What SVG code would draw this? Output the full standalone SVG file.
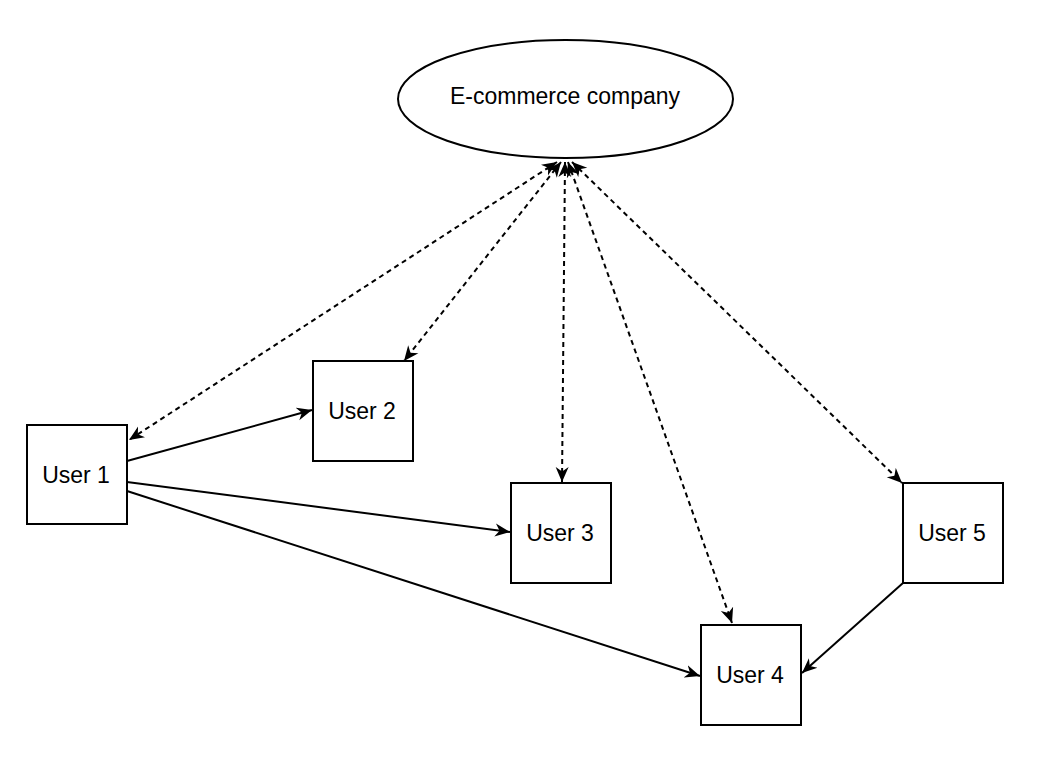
<svg xmlns="http://www.w3.org/2000/svg" width="1060" height="770" viewBox="0 0 1060 770">
<defs>
<marker id="arr" viewBox="-15 -7 16 14" refX="0" refY="0" markerWidth="16" markerHeight="14" markerUnits="userSpaceOnUse" orient="auto-start-reverse">
<path d="M-15,-6.5 L0,0 L-15,6.5 L-10.5,0 Z" fill="#000"/>
</marker>
<style>
.node{fill:#fff;stroke:#000;stroke-width:2}
.lbl{font-family:"Liberation Sans",Arial,sans-serif;font-size:23px;fill:#000;text-anchor:middle}
.e{fill:none;stroke:#000;stroke-width:2;marker-end:url(#arr)}
.d{fill:none;stroke:#000;stroke-width:2;stroke-dasharray:5 4;marker-start:url(#arr);marker-end:url(#arr)}
</style>
</defs>
<rect width="1060" height="770" fill="#fff"/>
<g id="connectors">
<path class="d" d="M557,162 L129,440"/>
<path class="d" d="M561,162 L404,361"/>
<path class="d" d="M565,162 L562,482"/>
<path class="d" d="M568,162 L732,623"/>
<path class="d" d="M572,162 L902,483"/>
<path class="e" d="M127,461 L312,410"/>
<path class="e" d="M127,482 L510,532"/>
<path class="e" d="M127,491 L700,676"/>
<path class="e" d="M903,583 L802,673"/>
</g>
<g id="ecommerce">
<ellipse class="node" cx="565.5" cy="99" rx="167.5" ry="59"/>
<text class="lbl" x="565" y="104">E-commerce company</text>
</g>
<g id="user1">
<rect class="node" x="27" y="425" width="100" height="99"/>
<text class="lbl" x="76" y="483">User 1</text>
</g>
<g id="user2">
<rect class="node" x="313" y="361" width="100" height="100"/>
<text class="lbl" x="362" y="419">User 2</text>
</g>
<g id="user3">
<rect class="node" x="511" y="483" width="100" height="100"/>
<text class="lbl" x="560" y="541">User 3</text>
</g>
<g id="user4">
<rect class="node" x="701" y="625" width="100" height="100"/>
<text class="lbl" x="750" y="683">User 4</text>
</g>
<g id="user5">
<rect class="node" x="903" y="483" width="100" height="100"/>
<text class="lbl" x="952" y="541">User 5</text>
</g>
</svg>
